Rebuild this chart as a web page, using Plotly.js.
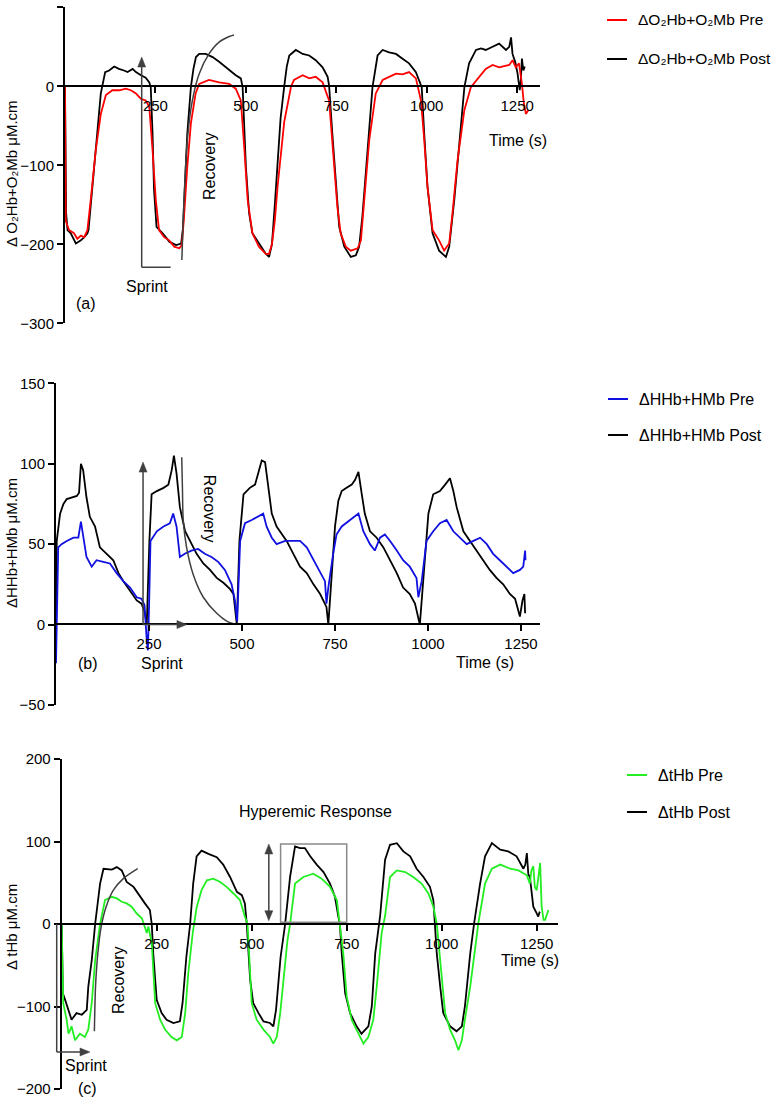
<!DOCTYPE html>
<html><head><meta charset="utf-8">
<script src="https://cdn.plot.ly/plotly-3.0.1.min.js"></script>
<style>html,body{margin:0;padding:0;background:#fff}#chart{width:773px;height:1098px}</style>
</head><body><div id="chart"></div>
<script>
// ---------- DATA (time s, value µM.cm) ----------
const xTicks = [250, 500, 750, 1000, 1250];

// Panel (a) ΔO2Hb+O2Mb
const aPost = [[0,0],[3,-160],[7,-182],[16,-186],[30,-199],[44,-195],[55,-190],[62,-186],[65,-182],[76,-126],[87,-70],[99,-9],[111,18],[122,20],[136,25],[149,22],[163,20],[173,18],[187,22],[196,18],[210,14],[223,11],[233,5],[237,-1],[242,-60],[246,-130],[253,-178],[270,-186],[289,-197],[307,-201],[321,-199],[326,-180],[333,-110],[338,-60],[348,-1],[355,22],[362,37],[371,41],[389,41],[408,37],[426,31],[454,20],[472,14],[486,10],[491,-1],[500,-102],[509,-161],[518,-186],[537,-199],[555,-212],[564,-216],[572,-200],[580,-150],[588,-90],[596,-40],[606,0],[613,25],[620,39],[638,46],[657,41],[675,39],[693,33],[712,24],[726,12],[730,1],[739,-60],[749,-127],[758,-178],[772,-203],[790,-216],[804,-214],[813,-203],[822,-165],[836,-81],[850,-1],[864,39],[878,46],[896,43],[915,41],[933,35],[951,29],[970,18],[979,8],[986,-1],[993,-60],[1002,-127],[1016,-186],[1034,-208],[1053,-216],[1062,-203],[1076,-144],[1090,-73],[1104,-1],[1117,29],[1136,46],[1150,48],[1163,46],[1182,50],[1200,54],[1219,46],[1228,50],[1233,62],[1237,41],[1245,30],[1251,16],[1257,-5],[1260,8],[1263,35],[1267,20],[1271,25]];
const aPre = [[0,0],[2,-170],[11,-182],[25,-186],[34,-193],[44,-189],[53,-191],[62,-182],[71,-144],[85,-81],[99,-35],[113,-11],[131,-5],[150,-5],[168,-3],[182,-5],[196,-9],[210,-16],[223,-18],[233,-26],[242,-81],[251,-144],[260,-182],[274,-191],[288,-195],[302,-203],[316,-205],[323,-201],[329,-165],[338,-102],[348,-47],[361,-9],[371,3],[398,8],[426,5],[454,3],[472,-3],[486,-18],[496,-81],[505,-144],[518,-186],[536,-203],[555,-212],[564,-212],[572,-200],[580,-170],[588,-125],[596,-85],[606,-45],[625,0],[633,8],[657,14],[675,10],[693,12],[712,5],[730,-18],[735,-45],[744,-102],[753,-153],[762,-186],[776,-203],[790,-208],[809,-205],[818,-195],[827,-144],[841,-68],[859,-9],[878,8],[896,12],[915,16],[933,15],[951,18],[970,10],[984,-18],[993,-68],[1002,-127],[1016,-182],[1034,-195],[1048,-208],[1062,-199],[1071,-161],[1085,-94],[1104,-30],[1122,-1],[1145,12],[1163,22],[1182,27],[1200,24],[1228,27],[1237,33],[1246,24],[1255,29],[1263,3],[1268,-20],[1274,-35],[1281,-30]];

// Panel (b) ΔHHb+HMb
const bPost = [[0,0],[2,52],[11,69],[20,75],[29,78],[42,79],[56,80],[62,82],[67,100],[73,96],[82,79],[91,67],[105,61],[118,48],[136,44],[154,40],[168,32],[181,27],[199,21],[217,15],[230,13],[238,8],[244,0],[251,52],[257,81],[271,83],[289,85],[302,87],[311,96],[317,105],[324,94],[333,73],[347,58],[360,52],[378,44],[396,38],[414,34],[432,29],[450,26],[468,22],[477,19],[486,0],[493,52],[504,81],[521,85],[535,87],[544,95],[553,102],[562,101],[571,83],[580,69],[593,61],[602,58],[620,52],[638,44],[656,36],[674,32],[692,25],[710,19],[727,11],[732,0],[741,32],[750,61],[759,77],[768,83],[781,85],[795,87],[804,90],[813,95],[822,81],[830,69],[844,58],[862,54],[880,48],[898,40],[916,32],[933,23],[951,19],[965,13],[974,5],[978,0],[992,42],[1001,69],[1014,81],[1032,83],[1046,87],[1059,91],[1068,83],[1077,73],[1095,58],[1113,52],[1131,46],[1149,40],[1166,34],[1184,29],[1202,25],[1220,19],[1234,16],[1247,5],[1254,15],[1259,19],[1261,7]];
const bPre = [[0,-24],[3,20],[6,48],[15,50],[29,52],[47,54],[60,54],[67,64],[73,56],[82,42],[96,36],[109,40],[127,39],[145,38],[163,32],[181,27],[199,23],[217,17],[230,16],[238,12],[244,-10],[247,-16],[250,10],[254,52],[271,58],[289,61],[306,63],[315,69],[324,61],[333,42],[346,44],[364,46],[382,47],[400,44],[418,42],[436,39],[454,34],[472,25],[481,15],[487,2],[495,52],[508,63],[526,65],[543,67],[557,69],[566,61],[580,54],[593,50],[616,52],[638,52],[656,52],[674,48],[692,40],[710,32],[723,27],[727,13],[732,23],[745,44],[754,56],[768,61],[790,65],[813,69],[826,58],[844,50],[857,46],[871,54],[884,56],[898,52],[916,46],[933,40],[951,36],[969,29],[974,17],[983,27],[996,52],[1014,58],[1032,63],[1050,65],[1068,58],[1086,54],[1104,50],[1122,52],[1140,54],[1158,50],[1175,44],[1193,40],[1211,36],[1229,32],[1247,34],[1256,36],[1261,46],[1262,40]];

// Panel (c) ΔtHb
const cPost = [[0,0],[3,-84],[9,-92],[18,-104],[26,-116],[39,-108],[53,-110],[66,-104],[70,-76],[79,-44],[88,0],[101,49],[110,67],[132,66],[145,69],[158,65],[171,51],[189,45],[206,33],[219,25],[232,17],[237,0],[241,-36],[250,-92],[263,-108],[276,-116],[294,-120],[311,-118],[318,-96],[328,-40],[338,0],[346,49],[355,82],[368,89],[386,85],[408,81],[425,72],[443,57],[461,39],[474,35],[482,25],[487,0],[496,-68],[504,-96],[518,-108],[531,-118],[548,-120],[557,-124],[564,-104],[576,-40],[588,0],[601,57],[614,94],[627,92],[640,92],[654,82],[671,72],[689,63],[706,49],[719,33],[728,9],[732,0],[737,-36],[746,-84],[759,-108],[776,-124],[789,-133],[807,-124],[816,-100],[825,-36],[838,10],[851,78],[864,96],[882,98],[899,88],[917,82],[934,67],[952,57],[969,45],[978,29],[982,0],[987,-36],[996,-76],[1004,-108],[1022,-124],[1039,-130],[1053,-124],[1061,-100],[1075,-36],[1085,0],[1101,49],[1114,82],[1132,98],[1154,90],[1175,88],[1197,82],[1215,67],[1220,72],[1224,86],[1228,60],[1232,57],[1241,21],[1250,13],[1254,9],[1258,15]];
const cPre = [[0,0],[4,-96],[13,-116],[18,-133],[26,-124],[35,-141],[48,-133],[61,-137],[70,-128],[79,-96],[88,-44],[101,0],[114,29],[132,33],[145,31],[158,27],[171,25],[184,21],[197,13],[211,7],[224,-11],[228,-3],[237,-23],[246,-96],[259,-116],[272,-128],[289,-137],[303,-141],[316,-137],[325,-108],[333,-60],[345,-10],[355,20],[368,41],[382,53],[399,55],[417,51],[434,45],[452,37],[469,29],[482,9],[489,0],[500,-96],[513,-116],[531,-128],[548,-137],[557,-145],[566,-137],[575,-108],[585,-60],[594,-20],[601,0],[614,49],[636,57],[662,61],[684,55],[706,45],[724,29],[732,0],[741,-36],[750,-88],[763,-116],[781,-133],[794,-145],[807,-137],[820,-116],[829,-76],[842,-11],[851,10],[864,57],[882,65],[904,63],[925,57],[947,49],[965,37],[978,21],[987,0],[1000,-68],[1009,-108],[1022,-128],[1035,-141],[1044,-153],[1053,-141],[1061,-116],[1075,-76],[1092,-15],[1096,0],[1114,49],[1132,67],[1154,72],[1180,67],[1202,65],[1224,59],[1232,49],[1236,65],[1241,70],[1245,45],[1250,41],[1255,60],[1259,74],[1263,21],[1268,5],[1272,5],[1281,17]];

// Annotation recovery curves (data coordinates)
const aRecovery = [[323,-220],[329,-144],[338,-68],[352,-18],[371,16],[398,41],[426,56],[454,63],[467,65]];
const bRecovery = [[338,104],[340,83],[342,65],[351,48],[369,31],[396,17],[432,7],[460,2],[486,0]];
const cRecovery = [[86,-130],[89,-76],[95,-36],[104,-3],[117,21],[136,41],[162,55],[200,67]];

// Series labels and colours
const labels = {
  aPre: 'ΔO₂Hb+O₂Mb Pre', aPost: 'ΔO₂Hb+O₂Mb Post',
  bPre: 'ΔHHb+HMb Pre', bPost: 'ΔHHb+HMb Post',
  cPre: 'ΔtHb Pre', cPost: 'ΔtHb Post'
};
const colors = {aPre: '#ff0000', bPre: '#1010e0', cPre: '#22ee22', post: '#000000'};

// ---------- BUILD ----------
const W = 773, H = 1098;
const px = v => v / W, py = v => 1 - v / H;
const FAM = '"Liberation Sans", Arial, Helvetica, sans-serif';
const FONT = {family: FAM, size: 16, color: '#000'};
const TFONT = {family: FAM, size: 15, color: '#000'};
const GREY = '#404040';
const xs = a => a.map(p => p[0]), ys = a => a.map(p => p[1]);

function series(pts, name, color, xa, ya) {
  return {type: 'scatter', mode: 'lines', x: xs(pts), y: ys(pts), name: name,
    xaxis: xa, yaxis: ya, showlegend: false,
    line: {color: color, width: 1.8}, hoverinfo: 'skip'};
}
function curve(pts, xa, ya) {
  return {type: 'scatter', mode: 'lines', x: xs(pts), y: ys(pts), xaxis: xa, yaxis: ya,
    showlegend: false, hoverinfo: 'skip', line: {color: GREY, width: 1.5, shape: 'spline', smoothing: 0.8}};
}

const traces = [
  series(aPost, labels.aPost, colors.post, 'x', 'y'),
  series(aPre, labels.aPre, colors.aPre, 'x', 'y'),
  curve(aRecovery, 'x', 'y'),
  series(bPost, labels.bPost, colors.post, 'x2', 'y2'),
  series(bPre, labels.bPre, colors.bPre, 'x2', 'y2'),
  curve(bRecovery, 'x2', 'y2'),
  series(cPost, labels.cPost, colors.post, 'x3', 'y3'),
  series(cPre, labels.cPre, colors.cPre, 'x3', 'y3'),
  curve(cRecovery, 'x3', 'y3')
];

function xAx(d0, d1, r1, pos) {
  return {domain: [px(d0), px(d1)], range: [0, r1], anchor: 'free', position: py(pos),
    showline: true, linecolor: '#000', linewidth: 2, ticks: 'outside', ticklen: 6, tickwidth: 2,
    tickcolor: '#000', tickvals: xTicks, showgrid: false, zeroline: false, tickfont: TFONT, fixedrange: true};
}
function yAx(top, bot, r0, r1, dt, anc) {
  return {domain: [py(bot), py(top)], range: [r0, r1], anchor: anc, dtick: dt, tick0: 0,
    showline: true, linecolor: '#000', linewidth: 2, ticks: 'outside', ticklen: 6, tickwidth: 2,
    tickcolor: '#000', showgrid: false, zeroline: false, tickfont: TFONT, fixedrange: true};
}
function txt(x, y, text, xr, yr, extra) {
  return Object.assign({x: x, y: y, text: text, xref: xr, yref: yr, showarrow: false, font: FONT,
    xanchor: 'center', yanchor: 'middle'}, extra || {});
}
function seg(x0, y0, x1, y1, xr, yr, color, width) {
  return {type: 'line', xref: xr, yref: yr, x0: x0, y0: y0, x1: x1, y1: y1, layer: 'above',
    line: {color: color || GREY, width: width || 1.5}};
}
const HEADS = {up: 'M0,0L-4,-10L4,-10Z', down: 'M0,0L-4,10L4,10Z', right: 'M0,0L-10,4L-10,-4Z'};
function head(x, y, dir, xr, yr) {
  return {type: 'path', xref: xr, yref: yr, xsizemode: 'pixel', ysizemode: 'pixel',
    xanchor: x, yanchor: y, path: HEADS[dir], layer: 'above',
    fillcolor: GREY, line: {color: GREY, width: 0.5}};
}
// legend entry: sample line + label (pixel positions of the reference legend)
function legendItem(lineX0, lineX1, textX, yPix, color, label, size) {
  return {
    shape: seg(px(lineX0), py(yPix), px(lineX1), py(yPix), 'paper', 'paper', color, 2),
    ann: txt(px(textX), py(yPix), label, 'paper', 'paper',
      {xanchor: 'left', font: {family: FAM, size: size || 16, color: '#000'}})
  };
}
const legendItems = [
  legendItem(607, 627, 636, 20, colors.aPre, labels.aPre, 15.5),
  legendItem(607, 627, 636, 59, colors.post, labels.aPost, 15.5),
  legendItem(608, 628, 637, 399, colors.bPre, labels.bPre),
  legendItem(608, 628, 637, 435, colors.post, labels.bPost),
  legendItem(627, 647, 656, 775, colors.cPre, labels.cPre),
  legendItem(627, 647, 656, 812, colors.post, labels.cPost)
];

const layout = {
  width: W, height: H, margin: {l: 0, r: 0, t: 0, b: 0}, paper_bgcolor: '#fff', plot_bgcolor: 'rgba(0,0,0,0)',
  font: FONT, showlegend: false,
  xaxis: xAx(65, 540, 1313, 86),
  yaxis: yAx(7.3, 323.3, -300, 100, 100, 'x'),
  xaxis2: xAx(56, 540, 1301, 624),
  yaxis2: yAx(383.3, 705, -50, 150, 50, 'x2'),
  xaxis3: xAx(61.7, 558, 1306, 924),
  yaxis3: yAx(759, 1089, -200, 200, 100, 'x3'),
  shapes: [
    seg(212, -229, 212, 30, 'x', 'y'), seg(212, -229, 292, -229, 'x', 'y'), head(212, 37, 'up', 'x', 'y'),
    seg(234, 0, 234, 95, 'x2', 'y2'), head(234, 101, 'up', 'x2', 'y2'),
    seg(234, 0, 345, 0, 'x2', 'y2'), head(352, 0, 'right', 'x2', 'y2'),
    seg(px(56.7), py(924), px(56.7), py(1052), 'paper', 'paper'),
    seg(px(56.7), py(1052), px(83), py(1052), 'paper', 'paper'),
    head(px(90), py(1052), 'right', 'paper', 'paper'),
    seg(545, 10, 545, 91, 'x3', 'y3'), head(545, 97, 'up', 'x3', 'y3'), head(545, 4, 'down', 'x3', 'y3'),
    {type: 'rect', xref: 'x3', yref: 'y3', x0: 576, x1: 750, y0: 2, y1: 97, layer: 'above', line: {color: '#8a8a8a', width: 1.5}}
  ].concat(legendItems.map(l => l.shape)),
  annotations: [
    txt(px(12), py(174), 'Δ O₂Hb+O₂Mb μM.cm', 'paper', 'paper', {textangle: -90, font: TFONT}),
    txt(px(11), py(543), 'ΔHHb+HMb μM.cm', 'paper', 'paper', {textangle: -90, font: TFONT}),
    txt(px(11), py(927), 'Δ tHb μM.cm', 'paper', 'paper', {textangle: -90, font: TFONT}),
    txt(px(518), py(140), 'Time (s)', 'paper', 'paper'),
    txt(px(485), py(662), 'Time (s)', 'paper', 'paper'),
    txt(px(530), py(960), 'Time (s)', 'paper', 'paper'),
    txt(227, -254, 'Sprint', 'x', 'y'),
    txt(58, -275, '(a)', 'x', 'y'),
    txt(398, -101, 'Recovery', 'x', 'y', {textangle: -90}),
    txt(285, -24, 'Sprint', 'x2', 'y2'),
    txt(86, -24, '(b)', 'x2', 'y2'),
    txt(411, 72, 'Recovery', 'x2', 'y2', {textangle: 90}),
    txt(64, -171, 'Sprint', 'x3', 'y3'),
    txt(67, -199, '(c)', 'x3', 'y3'),
    txt(148, -68, 'Recovery', 'x3', 'y3', {textangle: -90}),
    txt(667, 136, 'Hyperemic Response', 'x3', 'y3')
  ].concat(legendItems.map(l => l.ann))
};

Plotly.newPlot('chart', traces, layout, {staticPlot: true, displayModeBar: false});
</script>
</body></html>
